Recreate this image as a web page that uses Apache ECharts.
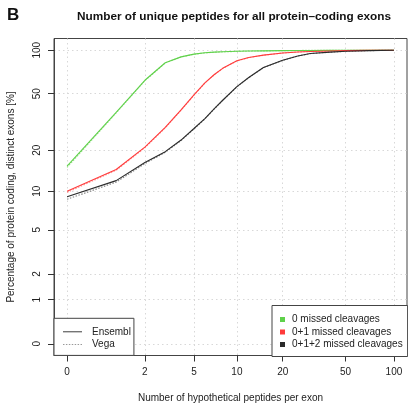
<!DOCTYPE html>
<html><head><meta charset="utf-8">
<script src="https://cdn.jsdelivr.net/npm/echarts@6/dist/echarts.min.js"></script>
<style>html,body{margin:0;padding:0;background:#fff}#c{width:408px;height:404px}</style>
</head><body><div id="c"></div>
<script>
const xTicks = [0, 2, 5, 10, 20, 50, 100];
const yTicks = [0, 1, 2, 5, 10, 20, 50, 100];
const peptides = [0, 1, 2, 3, 4, 5, 6, 7, 8, 10, 12, 15, 20, 25, 30, 40, 50, 70, 100];
const ensembl0   = [15.3, 37, 62, 82, 90, 94, 96, 97, 97.6, 98.3, 98.7, 99.0, 99.4, 99.6, 99.7, 99.8, 99.9, 99.95, 100];
const ensembl01  = [10.0, 14.5, 21, 29, 38.5, 49, 59.5, 68, 75, 84.5, 89, 92.5, 95.8, 97.3, 98, 98.9, 99.4, 99.8, 100];
const ensembl012 = [9.1, 12.0, 16.3, 19.5, 23.6, 28.5, 33.5, 39.4, 45, 56, 64.8, 75.9, 85.3, 91.3, 94.9, 97, 98.3, 99.4, 100];
const vega0   = [15.0, 36.7, 61.6, 81.7, 89.8, 93.8, 95.9, 96.9, 97.5, 98.2, 98.7, 99.0, 99.4, 99.6, 99.7, 99.8, 99.9, 99.95, 100];
const vega01  = [9.8, 14.3, 20.8, 28.8, 38.3, 48.8, 59.3, 67.8, 74.8, 84.4, 88.9, 92.4, 95.7, 97.3, 98, 98.9, 99.4, 99.8, 100];
const vega012 = [8.7, 11.7, 16.0, 19.3, 23.4, 28.3, 33.3, 39.2, 44.8, 55.8, 64.6, 75.7, 85.2, 91.2, 94.8, 97, 98.3, 99.4, 100];
const groupNames = ['0 missed cleavages', '0+1 missed cleavages', '0+1+2 missed cleavages'];
const sourceNames = ['Ensembl', 'Vega'];

const tf = v => Math.log10(v + 1);
const inv = v => Math.round(Math.pow(10, v) - 1);
const pairs = arr => peptides.map((p, i) => [tf(p), tf(arr[i])]);
const axTop = tf(100), axExt = axTop * 0.04;
const FONT = 'Liberation Sans';
const colors = ['#5fd14a', '#ff3a3a', '#2a2a2a'];
const vegaColors = ['#9fe090', '#ff9a9a', '#8a8a8a'];
const solidIcon = 'path://M0,0h20v1h-20z';
const dottedIcon = 'path://M0,0h1.5v1h-1.5z M3,0h1.5v1h-1.5z M6,0h1.5v1h-1.5z M9,0h1.5v1h-1.5z M12,0h1.5v1h-1.5z M15,0h1.5v1h-1.5z M18,0h1.5v1h-1.5z';

function axis(ticks, extra) {
  const vals = ticks.map(tf);
  return Object.assign({
    type: 'value', min: -axExt, max: axTop + axExt,
    axisLine: { show: true, onZero: false, lineStyle: { color: '#444', width: 1 } },
    axisTick: { show: true, inside: false, length: 6, customValues: vals, lineStyle: { color: '#333', width: 1 } },
    splitLine: { show: true, lineStyle: { color: '#d8d8d8', type: [1.5, 3], width: 1 } },
    nameTextStyle: { fontFamily: FONT, fontSize: 10, color: '#222' }
  }, extra);
}

const series = [];
[vega0, vega01, vega012].forEach((d, i) => series.push({
  name: 'Vega ' + groupNames[i], type: 'line', data: pairs(d), symbol: 'none', z: 2,
  lineStyle: { color: vegaColors[i], width: 1.2, type: [1.5, 1.5] }, itemStyle: { color: vegaColors[i] }
}));
[ensembl0, ensembl01, ensembl012].forEach((d, i) => series.push({
  name: groupNames[i], type: 'line', data: pairs(d), symbol: 'none', z: 3,
  lineStyle: { color: colors[i], width: 1.1 }, itemStyle: { color: colors[i] }
}));
series.push({ name: sourceNames[0], type: 'line', data: [], symbol: 'none', lineStyle: { color: '#333', width: 1.2 }, itemStyle: { color: '#333' } });
series.push({ name: sourceNames[1], type: 'line', data: [], symbol: 'none', lineStyle: { color: '#999', width: 1.2, type: [1.5, 1.5] }, itemStyle: { color: '#999' } });

const chart = echarts.init(document.getElementById('c'), null, { renderer: 'canvas' });
chart.setOption({
  backgroundColor: '#fff',
  animation: false,
  title: [
    { text: 'Number of unique peptides for all protein–coding exons', left: 229, top: 6, textAlign: 'center',
      textStyle: { fontFamily: FONT, fontSize: 11.8, fontWeight: 'bold', color: '#111' } },
    { text: 'B', left: 2, top: 2, textStyle: { fontFamily: FONT, fontSize: 17, fontWeight: 'bold', color: '#111' } }
  ],
  grid: { left: 54, right: 1, top: 38.5, bottom: 48.5, show: true, borderColor: '#444', borderWidth: 1,
    containLabel: false, outerBoundsMode: 'none' },
  xAxis: axis(xTicks, { name: 'Number of hypothetical peptides per exon', nameLocation: 'middle', nameGap: 38,
    axisLabel: { customValues: xTicks.map(tf), formatter: v => String(inv(v)), color: '#222', fontFamily: FONT, fontSize: 10, margin: 12 } }),
  yAxis: axis(yTicks, { name: 'Percentage of protein coding, distinct exons [%]', nameLocation: 'middle', nameGap: 38, nameRotate: 90,
    axisLabel: { customValues: yTicks.map(tf), formatter: v => String(inv(v)), color: '#222', fontFamily: FONT, fontSize: 10, margin: 12, rotate: 90 } }),
  legend: [
    { data: [{ name: sourceNames[0], icon: solidIcon }, { name: sourceNames[1], icon: dottedIcon }],
      orient: 'vertical', left: 54, top: 318.3, itemWidth: 19, itemHeight: 1.2, itemGap: 0.6,
      padding: [7.5, 3, 5, 9], borderColor: '#444', borderWidth: 1, backgroundColor: '#fff',
      textStyle: { fontFamily: FONT, fontSize: 10, color: '#222', lineHeight: 12, padding: [0, 0, 0, 5] } },
    { data: groupNames, orient: 'vertical', left: 272, top: 305.5, itemWidth: 5, itemHeight: 5, itemGap: 0.5, icon: 'rect',
      padding: [8, 5, 6, 8], borderColor: '#444', borderWidth: 1, backgroundColor: '#fff',
      textStyle: { fontFamily: FONT, fontSize: 10, color: '#222', lineHeight: 12, padding: [0, 0, 0, 2] } }
  ],
  series: series
});
</script></body></html>
